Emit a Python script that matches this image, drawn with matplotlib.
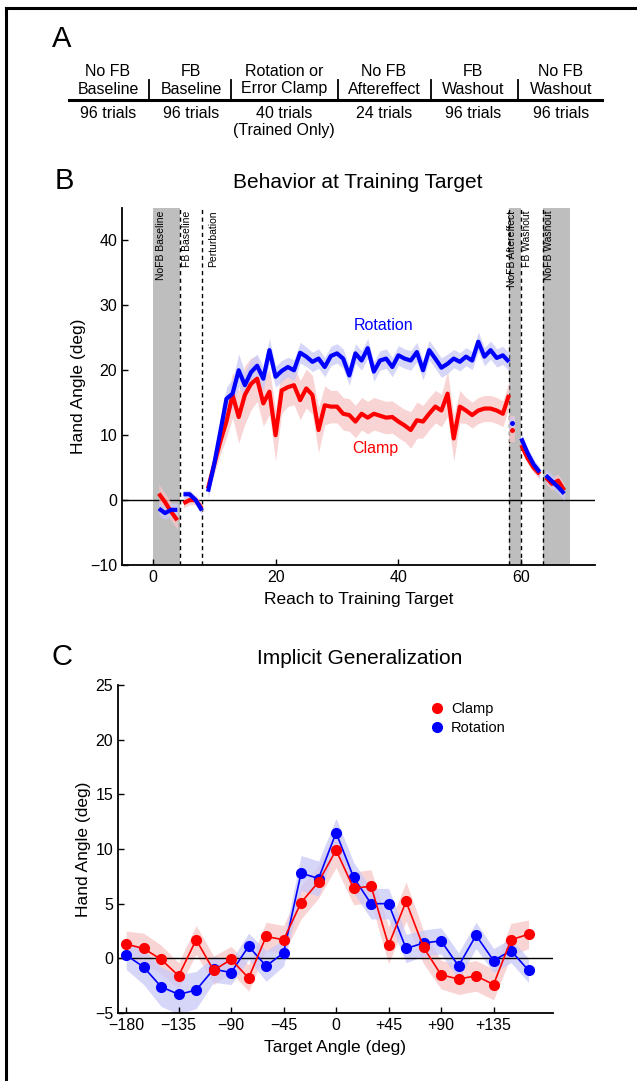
import numpy as np
import matplotlib
matplotlib.use("Agg")
import matplotlib.pyplot as plt
from matplotlib.lines import Line2D

plt.rcParams['font.family'] = ['Liberation Sans', 'DejaVu Sans']
plt.rcParams['axes.unicode_minus'] = True

W, H = 637, 1081

# ---------------- Panel A data ----------------
phase_names = ["No FB\nBaseline", "FB\nBaseline", "Rotation or\nError Clamp",
               "No FB\nAftereffect", "FB\nWashout", "No FB\nWashout"]
phase_trials = ["96 trials", "96 trials", "40 trials\n(Trained Only)",
                "24 trials", "96 trials", "96 trials"]

# ---------------- Panel B data ----------------
nofb_base_x = [1, 2, 3, 4]
nofb_base_rot = [-1.3, -2.0, -1.5, -1.5]
nofb_base_clamp = [1.0, -0.3, -1.8, -3.1]
nofb_base_rot_sem = [1.0, 1.0, 1.0, 1.0]
nofb_base_clamp_sem = [1.4, 1.4, 1.4, 1.4]

fb_base_x = [5, 6, 7, 8]
fb_base_rot = [0.9, 0.9, 0.0, -1.6]
fb_base_clamp = [-0.5, 0.0, 0.0, -1.3]
fb_base_rot_sem = [0.6, 0.6, 0.6, 0.6]
fb_base_clamp_sem = [0.7, 0.7, 0.7, 0.7]

pert_x = list(range(9, 59))
pert_rot = [1.3, 5.5, 10.5, 15.6, 16.4, 20.0, 17.7, 19.7, 20.7, 18.7,
            23.1, 19.0, 19.9, 20.5, 20.0, 22.7, 22.1, 21.3, 21.8, 20.5,
            22.2, 22.6, 21.8, 19.2, 22.6, 21.5, 23.4, 19.8, 21.5, 21.8,
            20.5, 22.3, 21.8, 21.5, 22.8, 20.0, 23.1, 21.8, 20.4, 21.0,
            21.8, 21.3, 22.1, 21.5, 24.4, 22.1, 23.1, 21.9, 22.3, 21.3]
pert_clamp = [1.8, 5.5, 9.0, 12.1, 16.2, 12.8, 16.2, 17.9, 18.7, 14.9,
              16.7, 10.0, 16.9, 17.4, 17.7, 15.4, 17.2, 16.2, 10.8, 14.6,
              14.4, 14.4, 13.3, 13.1, 12.1, 13.3, 12.7, 13.3, 13.0, 12.7,
              12.8, 12.1, 11.5, 10.8, 12.3, 12.1, 13.3, 14.4, 13.8, 16.4,
              9.5, 14.4, 13.8, 13.1, 13.8, 14.1, 14.1, 13.8, 13.3, 16.2]
pert_rot_sem = [1.0, 1.2, 1.5, 1.8, 2.2, 2.5, 2.0, 2.0, 1.8, 1.8,
                1.8, 1.6, 1.6, 1.5, 1.6, 1.6, 1.5, 1.5, 1.5, 1.5,
                1.5, 1.5, 1.5, 1.5, 1.5, 1.5, 1.5, 1.5, 1.5, 1.5,
                1.5, 1.5, 1.5, 1.5, 1.5, 1.5, 1.5, 1.5, 1.5, 1.5,
                1.4, 1.4, 1.4, 1.4, 1.5, 1.4, 1.4, 1.4, 1.4, 1.4]
pert_clamp_sem = [1.0, 1.5, 2.0, 2.5, 3.5, 4.0, 4.5, 4.0, 3.5, 3.5,
                  3.5, 4.0, 3.5, 3.0, 3.0, 3.0, 3.0, 3.0, 3.5, 3.0,
                  2.5, 2.5, 2.5, 2.5, 2.5, 2.5, 2.5, 2.5, 2.5, 2.5,
                  2.5, 2.5, 2.5, 2.8, 2.8, 2.5, 2.5, 2.5, 2.5, 3.5,
                  3.5, 2.5, 2.0, 2.0, 2.0, 2.0, 2.0, 2.0, 2.0, 2.0]

after_x = [58.5]
after_rot = [11.8]
after_clamp = [10.8]
after_sem = [1.9]

fbwash_x = [60, 61, 62, 63]
fbwash_rot = [9.5, 7.3, 5.5, 4.3]
fbwash_clamp = [8.5, 6.5, 5.0, 4.0]
fbwash_sem = [0.8, 0.8, 0.8, 0.8]

nofbwash_x = [64, 65, 66, 67]
nofbwash_rot = [3.8, 2.9, 2.0, 1.0]
nofbwash_clamp = [3.5, 2.5, 3.0, 1.5]
nofbwash_sem = [1.0, 1.0, 1.0, 1.0]

shade_spans = [(0, 4.5), (58, 60), (63.5, 68)]
dash_x = [4.5, 8, 58, 60, 63.5]
phase_labels_b = ["NoFB Baseline", "FB Baseline", "Perturbation",
                  "NoFB Aftereffect", "FB Washout", "NoFB Washout"]
phase_label_x = [1.4, 5.6, 9.8, 58.5, 61.0, 64.5]

# ---------------- Panel C data ----------------
target_angles = list(range(-180, 180, 15))
gen_clamp = [1.3, 0.9, -0.1, -1.6, 1.7, -1.1, -0.1, -1.8, 2.0, 1.7,
             5.1, 7.0, 9.9, 6.4, 6.6, 1.2, 5.2, 1.0, -1.5, -1.9,
             -1.6, -2.4, 1.7, 2.2]
gen_rot = [0.3, -0.8, -2.6, -3.3, -2.9, -1.0, -1.3, 1.1, -0.7, 0.5,
           7.8, 7.3, 11.5, 7.4, 5.0, 5.0, 0.9, 1.4, 1.6, -0.7,
           2.1, -0.2, 0.7, -1.1]
gen_clamp_sem = [1.2, 1.4, 1.3, 1.2, 1.3, 1.3, 1.2, 1.2, 1.3, 1.3,
                 1.5, 1.5, 1.6, 1.5, 1.5, 1.7, 1.8, 1.5, 1.3, 1.4,
                 1.4, 1.4, 1.5, 1.3]
gen_rot_sem = [1.3, 1.6, 1.8, 1.8, 1.7, 1.2, 1.1, 1.2, 1.4, 1.2,
               1.6, 1.6, 1.3, 1.4, 1.4, 1.4, 1.3, 1.2, 1.2, 1.2,
               1.2, 1.1, 1.1, 1.1]
xtick_vals_c = [-180, -135, -90, -45, 0, 45, 90, 135]
xtick_labels_c = ["\u2212180", "\u2212135", "\u221290", "\u221245", "0", "+45", "+90", "+135"]

RED = "#ff0000"
BLUE = "#0000ff"
PINK = "#f7c6c6"
LAV = "#c9c9f7"
GRAY = "#bebebe"

fig = plt.figure(figsize=(W / 100, H / 100), dpi=100)


def fx(px):
    return px / W


def fy(py):
    return 1 - py / H


# frame lines
fig.add_artist(Line2D([fx(6), fx(6)], [fy(8), 0], color='black', lw=2.2))
fig.add_artist(Line2D([fx(6), 1], [fy(8), fy(8)], color='black', lw=2.2))

# ---------------- Panel A ----------------
fig.text(fx(52), fy(39), "A", fontsize=21, va='center', ha='left')
col_centers = [108, 191, 284, 384, 473, 561]
seps = [149, 231, 338, 431, 518]
for cx, nm, tr in zip(col_centers, phase_names, phase_trials):
    top, bot = nm.split("\n")
    fig.text(fx(cx), fy(71), top, fontsize=11.5, ha='center', va='center')
    fig.text(fx(cx), fy(89), bot, fontsize=11.5, ha='center', va='center')
    lines = tr.split("\n")
    fig.text(fx(cx), fy(114), lines[0], fontsize=11.5, ha='center', va='center')
    if len(lines) > 1:
        fig.text(fx(cx), fy(131), lines[1], fontsize=11.5, ha='center', va='center')
fig.add_artist(Line2D([fx(69), fx(602)], [fy(100), fy(100)], color='black', lw=2.2))
for s in seps:
    fig.add_artist(Line2D([fx(s), fx(s)], [fy(100), fy(80)], color='black', lw=1.3))

# ---------------- Panel B ----------------
axB = fig.add_axes([fx(122), fy(565), fx(595) - fx(122), fy(208) - fy(565)])
axB.set_xlim(-5, 72)
axB.set_ylim(-10, 45)
for a, b in shade_spans:
    axB.axvspan(a, b, color=GRAY, lw=0, zorder=0)
for d in dash_x:
    axB.axvline(d, color='black', ls=(0, (3, 2.5)), lw=1.0, zorder=1)
axB.axhline(0, color='black', lw=1.0, zorder=2)


def band(ax, x, y, s, color, z):
    x = np.asarray(x, float); y = np.asarray(y, float); s = np.asarray(s, float)
    ax.fill_between(x, y - s, y + s, color=color, lw=0, alpha=0.75, zorder=z)


segs = [
    (nofb_base_x, nofb_base_rot, nofb_base_rot_sem, nofb_base_clamp, nofb_base_clamp_sem),
    (fb_base_x, fb_base_rot, fb_base_rot_sem, fb_base_clamp, fb_base_clamp_sem),
    (pert_x, pert_rot, pert_rot_sem, pert_clamp, pert_clamp_sem),
    (fbwash_x, fbwash_rot, fbwash_sem, fbwash_clamp, fbwash_sem),
    (nofbwash_x, nofbwash_rot, nofbwash_sem, nofbwash_clamp, nofbwash_sem),
]
for x, r, rs, c, cs in segs:
    band(axB, x, c, cs, PINK, 3)
    band(axB, x, r, rs, LAV, 3)
for x, r, rs, c, cs in segs:
    axB.plot(x, c, color=RED, lw=3.0, zorder=5, solid_capstyle='butt')
    axB.plot(x, r, color=BLUE, lw=3.0, zorder=6, solid_capstyle='butt')

# aftereffect block
axa = after_x[0]
axB.fill_between([axa - 0.45, axa + 0.45], [after_clamp[0] - after_sem[0]] * 2,
                 [after_rot[0] + after_sem[0] * 0.6] * 2, color=PINK, lw=0, alpha=0.75, zorder=3)
axB.fill_between([axa - 0.45, axa + 0.45], [after_rot[0] - 1.0] * 2,
                 [after_rot[0] + 1.0] * 2, color=LAV, lw=0, alpha=0.6, zorder=3)
axB.plot(after_x, after_clamp, 'o', color=RED, ms=2.5, zorder=6)
axB.plot(after_x, after_rot, 'o', color=BLUE, ms=2.5, zorder=6)

for lbl, lx in zip(phase_labels_b, phase_label_x):
    axB.text(lx, 44.6, lbl, rotation=90, fontsize=7.5, ha='center', va='top', zorder=8)

axB.text(37.5, 26.9, "Rotation", color=BLUE, fontsize=11.5, ha='center', va='center')
axB.text(36.3, 7.9, "Clamp", color=RED, fontsize=11.5, ha='center', va='center')

axB.set_xticks([0, 20, 40, 60])
axB.set_yticks([-10, 0, 10, 20, 30, 40])
axB.set_yticklabels(["\u221210", "0", "10", "20", "30", "40"])
axB.tick_params(direction='in', labelsize=11.5, length=4, width=1)
for sp in ['top', 'right']:
    axB.spines[sp].set_visible(False)
for sp in ['left', 'bottom']:
    axB.spines[sp].set_linewidth(1.3)
axB.set_ylabel("Hand Angle (deg)", fontsize=12.5, labelpad=3)
axB.set_xlabel("Reach to Training Target", fontsize=12.5, labelpad=5)
fig.text(fx(358), fy(183), "Behavior at Training Target", fontsize=15, ha='center', va='center')
fig.text(fx(55), fy(181), "B", fontsize=21, ha='left', va='center')

# ---------------- Panel C ----------------
axC = fig.add_axes([fx(118), fy(1013), fx(553) - fx(118), fy(685) - fy(1013)])
axC.set_xlim(-187, 186)
axC.set_ylim(-5, 25)
axC.axhline(0, color='black', lw=1.0, zorder=2)
band(axC, target_angles, gen_clamp, gen_clamp_sem, PINK, 1)
band(axC, target_angles, gen_rot, gen_rot_sem, LAV, 1)
axC.plot(target_angles, gen_rot, '-o', color=BLUE, lw=1.2, ms=7, zorder=4)
axC.plot(target_angles, gen_clamp, '-o', color=RED, lw=1.2, ms=7, zorder=5)
h1 = Line2D([], [], marker='o', ls='none', color=RED, ms=7, label='Clamp')
h2 = Line2D([], [], marker='o', ls='none', color=BLUE, ms=7, label='Rotation')
axC.legend(handles=[h1, h2], loc='upper left', bbox_to_anchor=(0.69, 0.98), frameon=False,
           fontsize=10.5, handletextpad=0.35, labelspacing=0.35, borderpad=0.2,
           handlelength=1.2)
axC.set_xticks(xtick_vals_c)
axC.set_xticklabels(xtick_labels_c)
axC.set_yticks([-5, 0, 5, 10, 15, 20, 25])
axC.set_yticklabels(["\u22125", "0", "5", "10", "15", "20", "25"])
axC.tick_params(direction='in', labelsize=11.5, length=4, width=1)
for sp in ['top', 'right']:
    axC.spines[sp].set_visible(False)
for sp in ['left', 'bottom']:
    axC.spines[sp].set_linewidth(1.3)
axC.set_ylabel("Hand Angle (deg)", fontsize=12.5, labelpad=3)
axC.set_xlabel("Target Angle (deg)", fontsize=12.5, labelpad=5)
fig.text(fx(360), fy(659), "Implicit Generalization", fontsize=15, ha='center', va='center')
fig.text(fx(52), fy(657), "C", fontsize=21, ha='left', va='center')

fig.savefig("out.png", dpi=100)
